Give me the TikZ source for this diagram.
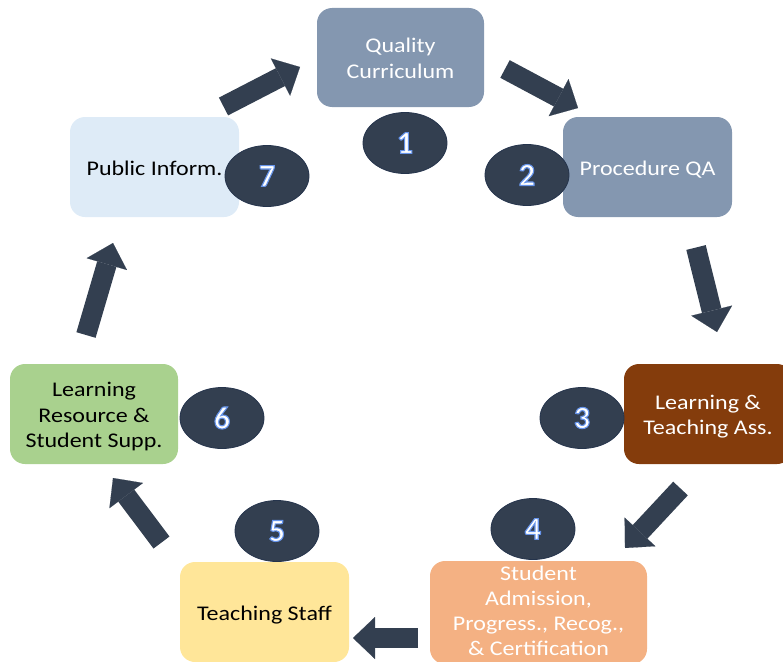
\documentclass[tikz,border=0pt]{standalone}
\usepackage{fontspec}
\setmainfont{Carlito}
\usetikzlibrary{shapes.geometric,arrows.meta}
\definecolor{slate}{HTML}{8497B0}
\definecolor{brownbox}{HTML}{843C0C}
\definecolor{peach}{HTML}{F4B183}
\definecolor{yel}{HTML}{FFE699}
\definecolor{grn}{HTML}{A9D18E}
\definecolor{lblue}{HTML}{DEEBF7}
\definecolor{navy}{HTML}{333F50}
\definecolor{navyline}{HTML}{25344C}
\newcommand\sq[2][-3pt]{\raisebox{#1}[\height][\depth]{\scalebox{1}[0.87]{\begin{tabular}{@{}c@{}}#2\end{tabular}}}}
\newcommand\glownum[1]{\textcolor{white}{\special{pdf:literal direct 0.40 0.58 0.92 RG 2 Tr 1.1 w}#1\special{pdf:literal direct 0 Tr}}}
\begin{document}
\begin{tikzpicture}[x=1pt,y=-1pt,
  box/.style={rounded corners=15pt, inner sep=0pt, font=\fontsize{24}{29}\selectfont},
  num/.style={ellipse, fill=navy, draw=navyline, line width=0.8pt, minimum width=84pt, minimum height=61pt, inner sep=0pt, font=\fontsize{32}{34}\selectfont\bfseries},
  flow/.style={navy, line width=20pt, -{Triangle[length=22pt,width=42pt,line width=0.1pt]}}]
\useasboundingbox (0,0) rectangle (783,661);
\clip (0,0) rectangle (783,661);
% boxes
\node[box, fill=slate, text=white, minimum width=167pt, minimum height=99pt] (b1) at (400.5,57.5) {\sq{Quality\\Curriculum}};
\node[box, fill=slate, text=white, minimum width=169pt, minimum height=100pt] (b2) at (647.5,167) {\sq{Procedure QA}};
\node[box, fill=brownbox, text=white, minimum width=168pt, minimum height=100pt] (b3) at (708,414) {\sq{Learning \&\\Teaching Ass.}};
\node[box, fill=peach, text=white, minimum width=217pt, minimum height=103pt] (b4) at (538.5,612.5) {\sq[-0.5pt]{Student\\Admission,\\Progress., Recog.,\\\& Certification}};
\node[box, fill=yel, text=black, minimum width=169pt, minimum height=100pt] (b5) at (264.5,612) {\sq{Teaching Staff}};
\node[box, fill=grn, text=black, minimum width=168pt, minimum height=100pt] (b6) at (94,414) {\sq{Learning\\Resource \&\\Student Supp.}};
\node[box, fill=lblue, text=black, minimum width=169pt, minimum height=100pt] (b7) at (154.5,167) {\sq{Public Inform.}};
% arrow ends
\coordinate (a1t) at (223.5,106.5); \coordinate (a1h) at (300,67);
\coordinate (a2t) at (505,69);     \coordinate (a2h) at (578,108);
\coordinate (a3t) at (696,247.5);  \coordinate (a3h) at (717,332);
\coordinate (a4t) at (680.5,488.5); \coordinate (a4h) at (625,548);
\coordinate (a5t) at (418,638);    \coordinate (a5h) at (353,638);
\coordinate (a6t) at (161.5,542.5); \coordinate (a6h) at (113,478);
\coordinate (a7t) at (86,335);     \coordinate (a7h) at (113,243);
\draw[flow] (a1t) -- (a1h);
\draw[flow] (a2t) -- (a2h);
\draw[flow] (a3t) -- (a3h);
\draw[flow] (a4t) -- (a4h);
\draw[flow] (a5t) -- (a5h);
\draw[flow] (a6t) -- (a6h);
\draw[flow] (a7t) -- (a7h);
% numbers
\node[num] (n1) at (405,143) {\glownum{1}};
\node[num] (n2) at (527,175) {\glownum{2}};
\node[num] (n3) at (582,418) {\glownum{3}};
\node[num] (n4) at (533,529) {\glownum{4}};
\node[num] (n5) at (277,531) {\glownum{5}};
\node[num] (n6) at (222,418) {\glownum{6}};
\node[num] (n7) at (267,176) {\glownum{7}};
\end{tikzpicture}
\end{document}
